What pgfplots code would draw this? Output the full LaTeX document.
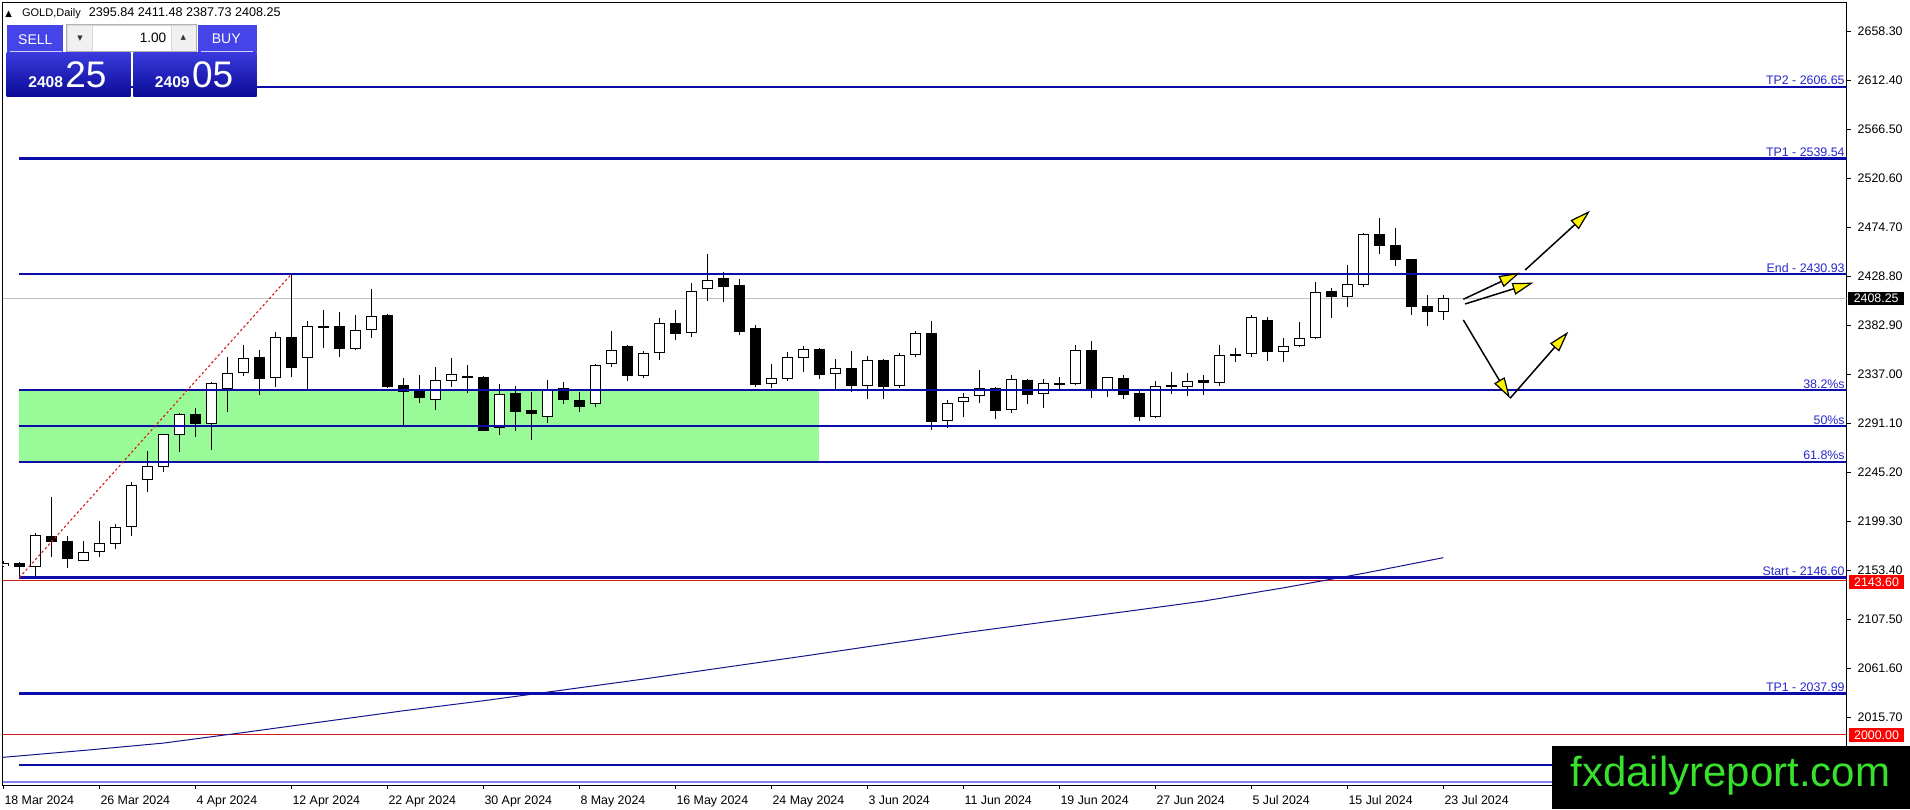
\documentclass[border=0pt]{standalone}
\usepackage{fontspec}
\setmainfont{Liberation Sans}
\newfontfamily\dejavu{DejaVu Sans}
\usepackage{pgfplots}
\pgfplotsset{compat=1.18}
\usepackage{pgfplotstable}
\usetikzlibrary{arrows.meta}

\definecolor{lineblue}{RGB}{12,12,168}
\definecolor{lblblue}{RGB}{40,40,205}
\definecolor{maBlue}{RGB}{20,20,140}
\definecolor{pgreen}{RGB}{152,251,152}
\definecolor{redline}{RGB}{215,25,25}
\definecolor{curgray}{RGB}{192,192,192}
\definecolor{wmgreen}{RGB}{55,225,45}
\definecolor{btnblue}{RGB}{68,68,232}
\definecolor{boxtop}{RGB}{58,58,222}
\definecolor{boxbot}{RGB}{10,10,150}
\definecolor{lav}{RGB}{130,130,240}

\newcommand\lbl{\fontsize{6.2pt}{7pt}\selectfont}

% white (rising) candles: bar index, open, high, low, close
\pgfplotstableread{
x o h l c
0 2157.5 2162.5 2156.5 2160.0
2 2156.9 2188.1 2148.1 2186.6
5 2162.5 2180.9 2162.2 2170.3
6 2170.9 2199.7 2166.3 2178.8
7 2177.8 2196.9 2173.1 2194.1
8 2193.7 2236.2 2185.9 2233.1
9 2237.8 2265.3 2227.2 2250.9
10 2250.6 2281.5 2245.9 2280.9
11 2280.0 2300.6 2264.7 2299.7
13 2290.6 2329.7 2266.2 2328.7
14 2323.1 2353.1 2302.2 2338.1
15 2338.1 2364.7 2335.9 2352.2
17 2333.4 2376.8 2325.0 2371.8
19 2352.2 2387.2 2323.1 2382.2
22 2360.6 2392.8 2360.3 2378.4
23 2378.4 2417.1 2371.5 2391.8
27 2313.4 2344.0 2303.7 2331.8
28 2331.2 2352.8 2325.6 2337.1
31 2286.5 2328.1 2280.3 2318.7
34 2297.5 2331.8 2291.2 2322.5
37 2309.0 2346.5 2306.2 2345.9
38 2346.5 2378.1 2344.3 2359.9
40 2335.9 2359.0 2334.0 2356.8
41 2356.8 2390.3 2350.6 2384.9
43 2376.2 2423.1 2372.5 2415.3
44 2416.8 2449.9 2406.2 2425.6
48 2327.8 2346.8 2324.7 2333.4
49 2332.5 2357.8 2331.2 2353.1
50 2352.2 2363.7 2339.6 2360.6
52 2337.2 2351.2 2323.1 2342.8
54 2326.5 2354.3 2313.7 2350.3
56 2326.5 2357.5 2324.6 2355.0
57 2355.0 2377.5 2353.1 2375.6
59 2293.1 2313.1 2286.5 2310.0
60 2310.9 2319.3 2296.8 2315.6
61 2316.5 2341.2 2310.0 2324.0
63 2303.4 2336.5 2300.6 2332.5
65 2318.4 2332.8 2305.9 2328.7
67 2327.8 2364.3 2326.8 2359.6
69 2321.5 2334.9 2316.2 2334.3
72 2297.5 2330.6 2295.9 2326.5
74 2325.6 2338.1 2317.2 2330.6
76 2328.7 2364.6 2326.2 2354.9
78 2356.5 2392.8 2353.1 2390.6
80 2358.4 2370.9 2348.4 2363.4
81 2363.4 2385.9 2362.5 2370.9
82 2370.9 2423.4 2369.9 2414.6
84 2409.9 2439.6 2400.6 2421.5
85 2420.9 2469.3 2419.3 2468.7
90 2395.84 2411.48 2387.73 2408.25
}\upbars

% black (falling) candles
\pgfplotstableread{
x o h l c
1 2160.0 2161.6 2146.6 2156.3
3 2185.9 2221.9 2165.6 2180.3
4 2180.9 2185.6 2155.9 2164.4
12 2299.7 2305.3 2278.7 2290.3
16 2353.1 2360.0 2317.8 2333.1
18 2371.8 2430.9 2334.3 2343.4
20 2382.2 2397.5 2362.2 2380.3
21 2382.2 2395.6 2353.7 2360.6
24 2392.8 2393.5 2324.0 2325.6
25 2326.9 2333.7 2289.7 2320.9
26 2322.5 2336.5 2310.6 2315.3
29 2336.0 2345.9 2319.3 2334.1
30 2335.0 2335.6 2283.7 2284.4
32 2319.7 2326.5 2284.4 2302.2
33 2303.7 2320.9 2275.6 2300.3
35 2324.7 2330.3 2309.0 2313.1
36 2313.1 2320.3 2302.2 2306.8
39 2363.7 2364.3 2331.2 2335.9
42 2384.9 2397.5 2369.3 2374.9
45 2427.4 2432.7 2405.3 2419.3
46 2420.9 2426.2 2374.0 2377.1
47 2380.3 2383.4 2325.6 2327.2
51 2360.9 2361.5 2333.1 2336.8
53 2343.1 2359.0 2320.3 2326.5
55 2350.3 2351.8 2314.4 2325.6
58 2375.6 2387.1 2285.0 2292.8
62 2324.0 2325.6 2295.0 2303.1
64 2331.8 2332.8 2309.0 2318.1
66 2329.4 2334.3 2323.1 2327.5
68 2359.6 2368.1 2315.3 2321.5
70 2333.4 2336.5 2314.4 2318.1
71 2319.3 2321.8 2293.1 2297.5
73 2327.0 2339.3 2318.4 2325.1
75 2331.8 2336.2 2318.1 2328.7
77 2356.0 2361.5 2349.0 2354.1
79 2387.8 2390.6 2350.0 2358.4
83 2414.9 2417.8 2390.3 2409.9
86 2468.7 2483.4 2449.9 2457.8
87 2458.4 2474.0 2439.0 2444.3
88 2445.2 2445.5 2392.8 2400.6
89 2400.9 2411.5 2382.4 2395.9
}\dnbars

% moving average
\pgfplotstableread{
x ma
-0.04 1978.1
0 1978.2
5 1984.6
10 1991.5
15 2001.4
20 2011.6
25 2021.8
30 2031.2
35 2041.3
40 2051.5
45 2062.3
50 2073.0
55 2084.0
60 2094.8
65 2104.8
70 2114.5
75 2124.6
80 2137.0
85 2150.6
90 2165.3
}\madata

\begin{document}
\begin{tikzpicture}
\fill[white] (0,0) rectangle (955pt,404.5pt);
\path[use as bounding box] (0,0) rectangle (955pt,404.5pt);

\begin{axis}[
  at={(1.35pt,12pt)}, anchor=south west,
  scale only axis, width=922pt, height=391.15pt,
  xmin=-0.0375, xmax=115.21, ymin=1952.23, ymax=2685.48,
  axis line style={black, line width=0.5pt},
  tick align=outside, major tick length=2pt,
  tick style={black, line width=0.5pt},
  xtick={0,6,12,18,24,30,36,42,48,54,60,66,72,78,84,90},
  xtick pos=left,
  xticklabels={18 Mar 2024, 26 Mar 2024, 4 Apr 2024, 12 Apr 2024, 22 Apr 2024, 30 Apr 2024, 8 May 2024, 16 May 2024, 24 May 2024, 3 Jun 2024, 11 Jun 2024, 19 Jun 2024, 27 Jun 2024, 5 Jul 2024, 15 Jul 2024, 23 Jul 2024},
  xticklabel style={font=\lbl, anchor=north west, inner sep=0pt, xshift=0.4pt, yshift=-3.1pt},
  ytick={2015.7,2061.6,2107.5,2153.4,2199.3,2245.2,2291.1,2337.0,2382.9,2428.8,2474.7,2520.6,2566.5,2612.4,2658.3},
  yticklabels={2015.70,2061.60,2107.50,2153.40,2199.30,2245.20,2291.10,2337.00,2382.90,2428.80,2474.70,2520.60,2566.50,2612.40,2658.30},
  ytick pos=right, yticklabel pos=right,
  yticklabel style={font=\lbl, anchor=west, inner sep=0pt, xshift=3.3pt},
  clip=true,
]
% green zone
\addplot[fill=pgreen, draw=none] coordinates {(1,2255.21) (51,2255.21) (51,2322.32) (1,2322.32)} --cycle;
% current price line and red levels
\addplot[curgray, line width=0.5pt] coordinates {(-0.0375,2408.25) (115.21,2408.25)};
\addplot[redline, line width=0.5pt] coordinates {(-0.0375,2143.60) (115.21,2143.60)};
\addplot[redline, line width=0.5pt] coordinates {(-0.0375,2000.00) (115.21,2000.00)};
\addplot[lav, line width=1pt] coordinates {(-0.0375,1954.6) (115.21,1954.6)};
% moving average
\addplot[maBlue, line width=0.5pt] table[x=x,y=ma] {\madata};
% wicks
\addplot[draw=none, mark=none, error bars/.cd, y dir=plus, y explicit, error mark=none,
  error bar style={draw=black, line width=0.55pt}]
  table[x=x, y=l, y error expr=\thisrow{h}-\thisrow{l}] {\upbars};
\addplot[draw=none, mark=none, error bars/.cd, y dir=plus, y explicit, error mark=none,
  error bar style={draw=black, line width=0.55pt}]
  table[x=x, y=l, y error expr=\thisrow{h}-\thisrow{l}] {\dnbars};
% black bodies
\addplot[draw=none, mark=none, error bars/.cd, y dir=both, y explicit, error mark=none,
  error bar style={draw=black, line width=5.35pt}]
  table[x=x, y expr=(\thisrow{o}+\thisrow{c})/2, y error expr=abs(\thisrow{o}-\thisrow{c})/2] {\dnbars};
% white bodies: outline then fill
\addplot[draw=none, mark=none, error bars/.cd, y dir=both, y explicit, error mark=none,
  error bar style={draw=black, line width=5.35pt}]
  table[x=x, y expr=(\thisrow{o}+\thisrow{c})/2, y error expr=abs(\thisrow{o}-\thisrow{c})/2] {\upbars};
\addplot[draw=none, mark=none, error bars/.cd, y dir=both, y explicit, error mark=none,
  error bar style={draw=white, line width=4.35pt}]
  table[x=x, y expr=(\thisrow{o}+\thisrow{c})/2, y error expr=abs(\thisrow{o}-\thisrow{c})/2-0.94] {\upbars};
% blue levels
\addplot[lineblue, line width=1.15pt] coordinates {(1,2606.65) (115.21,2606.65)};
\addplot[lineblue, line width=1.15pt] coordinates {(1,2539.54) (115.21,2539.54)};
\addplot[lineblue, line width=1.15pt] coordinates {(1,2430.93) (115.21,2430.93)};
\addplot[lineblue, line width=1.15pt] coordinates {(1,2322.32) (115.21,2322.32)};
\addplot[lineblue, line width=1.15pt] coordinates {(1,2288.77) (115.21,2288.77)};
\addplot[lineblue, line width=1.15pt] coordinates {(1,2255.21) (115.21,2255.21)};
\addplot[lineblue, line width=1.15pt] coordinates {(1,2146.60) (115.21,2146.60)};
\addplot[lineblue, line width=1.15pt] coordinates {(1,2037.99) (115.21,2037.99)};
\addplot[lineblue, line width=1.15pt] coordinates {(1,1970.88) (115.21,1970.88)};
% fibo trend line
\addplot[redline, line width=0.55pt, dash pattern=on 1.2pt off 1.2pt] coordinates {(1,2146.6) (18,2430.93)};
% scenario arrows
\tikzset{tipY/.style={-{Triangle[length=10.5pt, width=6pt, fill=yellow, line width=0.6pt]}}}
\addplot[black, line width=0.75pt, tipY] coordinates {(91.25,2407.5) (94.79,2432.4)};
\addplot[black, line width=0.75pt, tipY] coordinates {(95.11,2434.9) (99.17,2490.5)};
\addplot[black, line width=0.75pt, tipY] coordinates {(91.36,2403.1) (95.63,2423.1)};
\addplot[black, line width=0.75pt, tipY] coordinates {(91.25,2388.1) (94.17,2314.7)};
\addplot[black, line width=0.75pt, tipY] coordinates {(94.17,2314.7) (97.81,2377.1)};
% level labels
\tikzset{lvl/.style={anchor=base east, inner sep=0pt, font=\lbl, text=lblblue, xshift=-0.85pt, yshift=0.9pt}}
\node[lvl] at (axis cs:115.21,2606.65) {TP2 - 2606.65};
\node[lvl] at (axis cs:115.21,2539.54) {TP1 - 2539.54};
\node[lvl] at (axis cs:115.21,2430.93) {End - 2430.93};
\node[lvl] at (axis cs:115.21,2322.32) {38.2\%s};
\node[lvl] at (axis cs:115.21,2288.77) {50\%s};
\node[lvl] at (axis cs:115.21,2255.21) {61.8\%s};
\node[lvl] at (axis cs:115.21,2146.60) {Start - 2146.60};
\node[lvl] at (axis cs:115.21,2037.99) {TP1 - 2037.99};
\end{axis}

\begin{scope}[x=0.5pt, y=-0.5pt, yshift=404.5pt]
% price boxes on the right scale
\fill[black] (1848.3,291.7) rectangle (1904,305.3);
\node[inner sep=0pt, text=white, font=\lbl] at (1876.2,298.6) {2408.25};
\fill[red] (1849,575) rectangle (1904,588.6);
\node[inner sep=0pt, text=white, font=\lbl] at (1876.5,581.9) {2143.60};
\fill[red] (1849,728) rectangle (1904,741.5);
\node[inner sep=0pt, text=white, font=\lbl] at (1876.5,734.9) {2000.00};
% watermark
\fill[black] (1552.3,746) rectangle (1910,809);
\node[anchor=base west, inner sep=0pt, text=wmgreen, font=\fontsize{21pt}{24pt}\selectfont] at (1570,786.7) {fxdailyreport.com};
% header
\node[anchor=base west, inner sep=0pt, font=\dejavu\fontsize{4.3pt}{5pt}\selectfont] at (5,16.2) {▲};
\node[anchor=base west, inner sep=0pt, font=\fontsize{5.5pt}{6.5pt}\selectfont] at (21.7,16.9) {GOLD,Daily};
\node[anchor=base west, inner sep=0pt, font=\fontsize{6.3pt}{7pt}\selectfont] at (88.5,16.9) {2395.84 2411.48 2387.73 2408.25};
% one-click trading panel
\fill[btnblue] (6.7,25) rectangle (63.3,51.7);
\fill[btnblue] (198.3,25) rectangle (256.7,51.7);
\fill[gray!30] (66.7,25) rectangle (196.7,51.7);
\fill[white] (92.7,26) rectangle (170.7,50.7);
\fill[gray!12] (67.7,26) rectangle (91.7,50.7);
\fill[gray!12] (171.7,26) rectangle (195.7,50.7);
\draw[gray!60, line width=0.5pt] (66.7,25) rectangle (196.7,51.7);
\node[inner sep=0pt, font=\dejavu\fontsize{3.5pt}{4pt}\selectfont, text=black!80] at (80,38.3) {▼};
\node[inner sep=0pt, font=\dejavu\fontsize{3.5pt}{4pt}\selectfont, text=black!80] at (183.3,37.5) {▲};
\node[anchor=base east, inner sep=0pt, font=\fontsize{6.8pt}{7pt}\selectfont] at (166.7,43) {1.00};
\node[inner sep=0pt, text=white, font=\fontsize{7pt}{8pt}\selectfont] at (35.3,39.2) {SELL};
\node[inner sep=0pt, text=white, font=\fontsize{7pt}{8pt}\selectfont] at (226.3,39.2) {BUY};
\draw[white!75!btnblue, line width=0.5pt] (10,51.2) -- (61.7,51.2);
\draw[white!75!btnblue, line width=0.5pt] (201,51.2) -- (253,51.2);
\shade[top color=boxtop, bottom color=boxbot] (6.7,52.3) rectangle (130.7,96.7);
\shade[top color=boxtop, bottom color=boxbot] (133.3,52.3) rectangle (256.7,96.7);
\node[anchor=base west, inner sep=0pt, text=white, font=\bfseries\fontsize{7.8pt}{8pt}\selectfont] at (28,87.3) {2408};
\node[anchor=base west, inner sep=0pt, text=white, font=\fontsize{18.5pt}{20pt}\selectfont] at (65,87.3) {25};
\node[anchor=base west, inner sep=0pt, text=white, font=\bfseries\fontsize{7.8pt}{8pt}\selectfont] at (154.5,87.3) {2409};
\node[anchor=base west, inner sep=0pt, text=white, font=\fontsize{18.5pt}{20pt}\selectfont] at (191.7,87.3) {05};
\end{scope}
\end{tikzpicture}
\end{document}
